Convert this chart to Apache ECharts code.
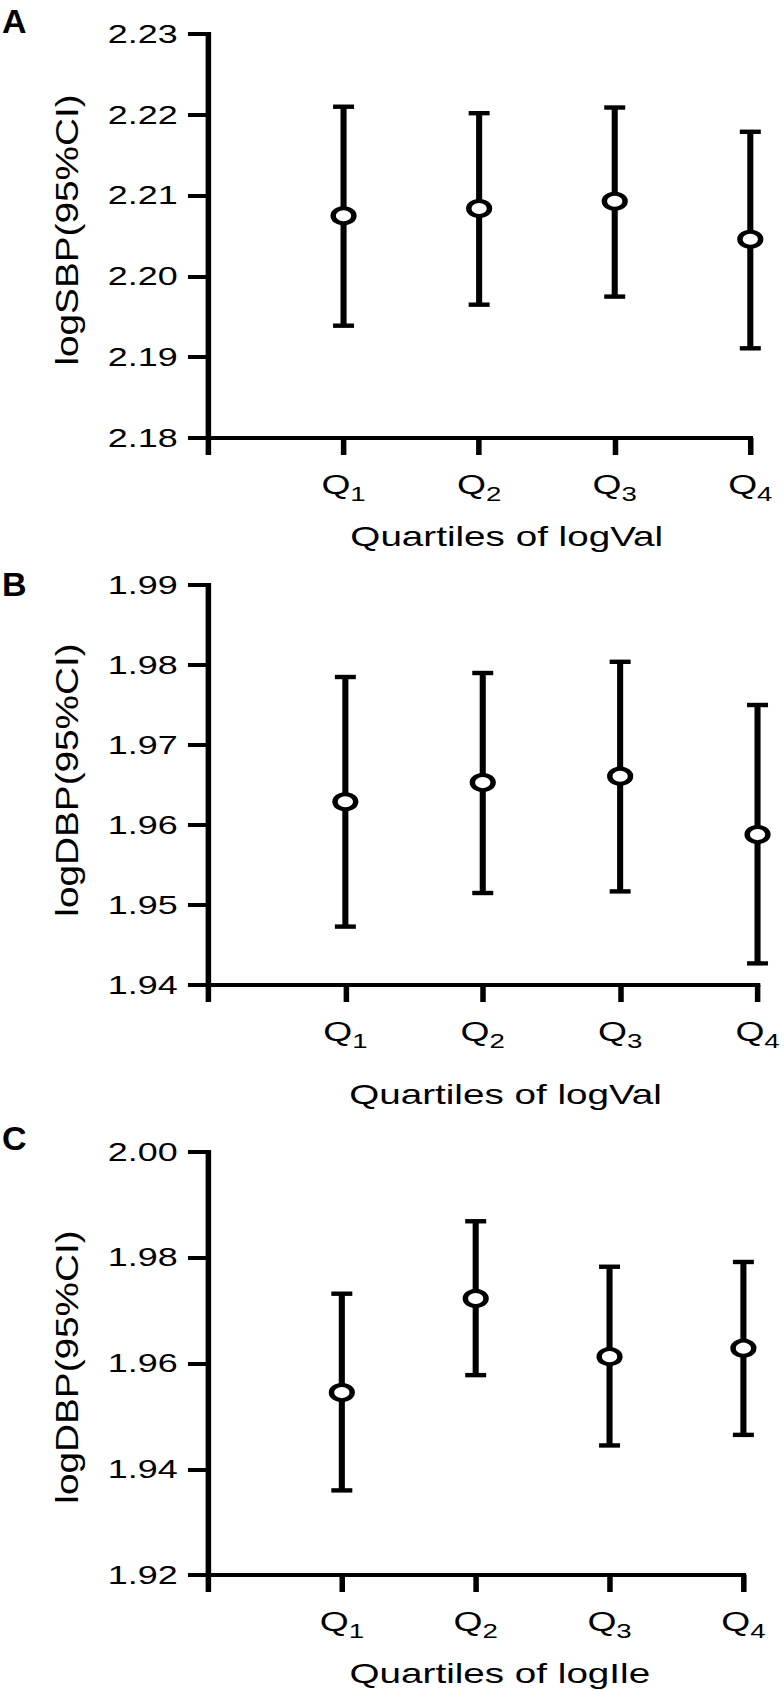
<!DOCTYPE html>
<html>
<head>
<meta charset="utf-8">
<title>logSBP / logDBP by quartiles</title>
<script src="https://cdn.jsdelivr.net/npm/echarts@6/dist/echarts.min.js"></script>
<style>
  html, body { margin: 0; padding: 0; background: #fff; overflow: hidden; }
  /* the original figure is stretched sideways, so draw narrow and widen */
  #chart { width: 568px; height: 1690px; transform: scaleX(1.38); transform-origin: 0 0; }
</style>
</head>
<body>
<div id="chart"></div>
<script>
var quartileSubs = ['1', '2', '3', '4'];

// A: logSBP by quartiles of logVal
var sbpMean = [2.2075, 2.2084, 2.2093, 2.2046];
var sbpLow  = [2.1939, 2.1965, 2.1975, 2.1911];
var sbpHigh = [2.2210, 2.2202, 2.2209, 2.2179];
var sbpTicks = [2.18, 2.19, 2.20, 2.21, 2.22, 2.23];

// B: logDBP by quartiles of logVal
var dbpValMean = [1.9629, 1.9653, 1.9661, 1.9588];
var dbpValLow  = [1.9473, 1.9515, 1.9517, 1.9427];
var dbpValHigh = [1.9785, 1.9790, 1.9804, 1.9750];
var dbpValTicks = [1.94, 1.95, 1.96, 1.97, 1.98, 1.99];

// C: logDBP by quartiles of logIle
var dbpIleMean = [1.9545, 1.9723, 1.9613, 1.9629];
var dbpIleLow  = [1.9360, 1.9578, 1.9445, 1.9465];
var dbpIleHigh = [1.9732, 1.9869, 1.9783, 1.9792];
var dbpIleTicks = [1.92, 1.94, 1.96, 1.98, 2.00];

var STRETCH = 1.38;
var FONT = '"Liberation Sans", Arial, Helvetica, sans-serif';

var panels = [
  { letter: 'A', yName: 'logSBP(95%CI)', xName: 'Quartiles of logVal',
    mean: sbpMean, low: sbpLow, high: sbpHigh, ticks: sbpTicks,
    top: 34, height: 404, width: 393, nameGap: 84, namePad: 40, letterY: 21, yNameY: 230 },
  { letter: 'B', yName: 'logDBP(95%CI)', xName: 'Quartiles of logVal',
    mean: dbpValMean, low: dbpValLow, high: dbpValHigh, ticks: dbpValTicks,
    top: 585, height: 400, width: 400, nameGap: 95, namePad: 33, letterY: 584, yNameY: 780 },
  { letter: 'C', yName: 'logDBP(95%CI)', xName: 'Quartiles of logIle',
    mean: dbpIleMean, low: dbpIleLow, high: dbpIleHigh, ticks: dbpIleTicks,
    top: 1152, height: 423, width: 388, nameGap: 84, namePad: 35, letterY: 1138, yNameY: 1367 }
];

function errorBar(params, api) {
  var x = api.value(0);
  var lo = api.coord([x, api.value(1)]);
  var hi = api.coord([x, api.value(2)]);
  var half = 7.6;
  var st = { stroke: '#000', lineWidth: 4.4, fill: null };
  return {
    type: 'group',
    children: [
      { type: 'line', shape: { x1: lo[0], y1: lo[1], x2: hi[0], y2: hi[1] }, style: st },
      { type: 'line', shape: { x1: hi[0] - half, y1: hi[1], x2: hi[0] + half, y2: hi[1] }, style: st },
      { type: 'line', shape: { x1: lo[0] - half, y1: lo[1], x2: lo[0] + half, y2: lo[1] }, style: st }
    ]
  };
}

var grids = [], xAxes = [], yAxes = [], series = [], graphics = [];

panels.forEach(function (p, i) {
  var step = Math.round((p.ticks[1] - p.ticks[0]) * 1000) / 1000;
  grids.push({ left: 150.7, top: p.top, width: p.width, height: p.height });

  xAxes.push({
    gridIndex: i, type: 'value', min: 0, max: 4, interval: 1,
    axisLine: { show: true, onZero: false, lineStyle: { color: '#000', width: 4, cap: 'square' } },
    axisTick: { show: true, length: 17, lineStyle: { color: '#000', width: 4 } },
    splitLine: { show: false },
    axisLabel: {
      margin: 33,
      formatter: function (v) { return v >= 1 ? '{q|Q}{s|' + quartileSubs[v - 1] + '}' : ''; },
      rich: {
        q: { fontSize: 27, fontFamily: FONT, color: '#000', verticalAlign: 'bottom', padding: [0, 0, 6, 0] },
        s: { fontSize: 20, fontFamily: FONT, color: '#000', verticalAlign: 'bottom' }
      }
    },
    name: p.xName, nameLocation: 'middle', nameGap: p.nameGap,
    nameTextStyle: { fontSize: 28, color: '#000', fontFamily: FONT, padding: [0, 0, 0, p.namePad] }
  });

  yAxes.push({
    gridIndex: i, type: 'value',
    min: p.ticks[0], max: p.ticks[p.ticks.length - 1], interval: step,
    axisLine: { show: true, lineStyle: { color: '#000', width: 4, cap: 'square' } },
    axisTick: { show: true, length: 14.5, lineStyle: { color: '#000', width: 4 } },
    splitLine: { show: false },
    axisLabel: {
      margin: 22, fontSize: 26, color: '#000', fontFamily: FONT,
      formatter: function (v) { return v.toFixed(2); }
    }
  });

  series.push({
    type: 'custom', xAxisIndex: i, yAxisIndex: i,
    renderItem: errorBar,
    encode: { x: 0, y: [1, 2] },
    data: p.mean.map(function (m, k) { return [k + 1, p.low[k], p.high[k]]; }),
    z: 2
  });
  series.push({
    type: 'scatter', xAxisIndex: i, yAxisIndex: i,
    symbol: 'circle', symbolSize: 15,
    itemStyle: { color: '#fff', borderColor: '#000', borderWidth: 4, opacity: 1 },
    emphasis: { disabled: true },
    data: p.mean.map(function (m, k) { return [k + 1, m]; }),
    z: 5
  });

  graphics.push({
    type: 'text', x: 2 / STRETCH, y: p.letterY, scaleX: 1 / STRETCH,
    style: { text: p.letter, fontSize: 34, fontWeight: 'bold', fontFamily: FONT, fill: '#000',
             align: 'left', verticalAlign: 'middle', textAlign: 'left', textVerticalAlign: 'middle' }
  });
  graphics.push({
    type: 'text', x: 48.5, y: p.yNameY, rotation: Math.PI / 2,
    scaleX: 1.25, scaleY: 1 / STRETCH,
    style: { text: p.yName, fontSize: 31, fontFamily: FONT, fill: '#000',
             align: 'center', verticalAlign: 'middle', textAlign: 'center', textVerticalAlign: 'middle' }
  });
});

var chart = echarts.init(document.getElementById('chart'), null, { renderer: 'svg' });
chart.setOption({
  animation: false,
  backgroundColor: '#fff',
  grid: grids,
  xAxis: xAxes,
  yAxis: yAxes,
  series: series,
  graphic: { elements: graphics }
});
</script>
</body>
</html>
